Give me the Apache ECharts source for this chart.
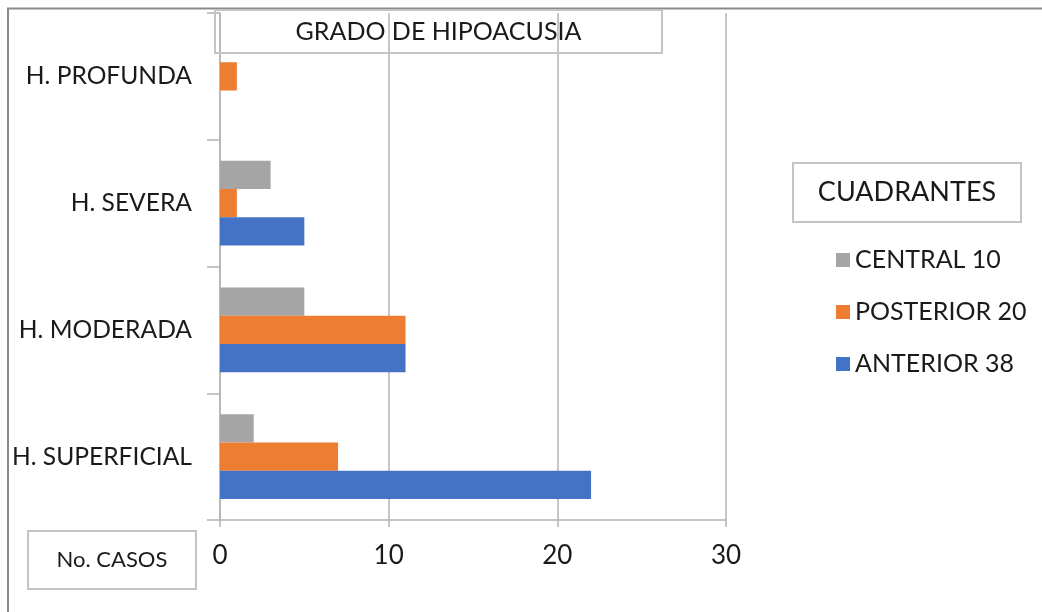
<!DOCTYPE html>
<html>
<head>
<meta charset="utf-8">
<script src="https://cdn.jsdelivr.net/npm/echarts@6/dist/echarts.min.js"></script>
<style>
  html, body { margin: 0; padding: 0; background: #fff; }
  #chart { width: 1042px; height: 612px; }
</style>
</head>
<body>
<div id="chart"></div>
<script>
// Grados de hipoacusia, de abajo hacia arriba
const categories = ['H. SUPERFICIAL', 'H. MODERADA', 'H. SEVERA', 'H. PROFUNDA'];
// Casos por cuadrante
const anterior = [22, 11, 5, 0];
const posterior = [7, 11, 1, 1];
const central = [2, 5, 3, 0];
const xTicks = [0, 10, 20, 30];

const sum = a => a.reduce((s, v) => s + v, 0);
const nameAnterior = 'ANTERIOR ' + sum(anterior);
const namePosterior = 'POSTERIOR ' + sum(posterior);
const nameCentral = 'CENTRAL ' + sum(central);

const FONT = 'Lato, "Open Sans", sans-serif';
const TEXT = '#1a1a1a';
const GRID = '#b3b3b3';
const BOX = '#c4c4c4';

const chart = echarts.init(document.getElementById('chart'), null, { renderer: 'canvas' });

function boxedText(x, y, w, h, text, size) {
  return {
    type: 'group',
    children: [
      { type: 'rect', shape: { x: x, y: y, width: w, height: h },
        style: { fill: 'none', stroke: BOX, lineWidth: 2 }, z: 10 },
      { type: 'text', x: x + w / 2, y: y + h / 2,
        style: { text: text, fill: TEXT, font: size + 'px ' + FONT,
                 textAlign: 'center', textVerticalAlign: 'middle' }, z: 11 }
    ]
  };
}

// Horizontal bars: the first series is drawn at the top of each band
const barCommon = { type: 'bar', barGap: '0%', barCategoryGap: '33%' };

chart.setOption({
  animation: false,
  backgroundColor: '#fff',
  textStyle: { fontFamily: FONT },
  grid: { left: 220, right: 316, top: 13, bottom: 92, containLabel: false },
  xAxis: {
    type: 'value',
    min: xTicks[0], max: xTicks[xTicks.length - 1], interval: xTicks[1] - xTicks[0],
    axisLine: { show: true, lineStyle: { color: GRID, width: 1.5 } },
    axisTick: { show: true, length: 7, lineStyle: { color: GRID, width: 1.5 } },
    splitLine: { show: true, lineStyle: { color: GRID, width: 1.5 } },
    axisLabel: { color: TEXT, fontSize: 26, margin: 23, fontFamily: FONT }
  },
  yAxis: {
    type: 'category',
    data: categories,
    axisLine: { show: true, lineStyle: { color: GRID, width: 1.5 } },
    axisTick: { show: true, length: 13, lineStyle: { color: GRID, width: 1.5 } },
    axisLabel: { color: TEXT, fontSize: 24.6, margin: 28, fontFamily: FONT }
  },
  legend: {
    orient: 'vertical',
    left: 831, top: 240,
    icon: 'rect', itemWidth: 14, itemHeight: 14, itemGap: 22, itemTextGap: 9,
    textStyle: { color: TEXT, fontSize: 25, lineHeight: 30, fontFamily: FONT },
    data: [nameCentral, namePosterior, nameAnterior]
  },
  series: [
    Object.assign({ name: nameCentral, data: central, itemStyle: { color: '#A5A5A5' } }, barCommon),
    Object.assign({ name: namePosterior, data: posterior, itemStyle: { color: '#ED7D31' } }, barCommon),
    Object.assign({ name: nameAnterior, data: anterior, itemStyle: { color: '#4472C4' } }, barCommon)
  ],
  graphic: [
    { type: 'polyline', shape: { points: [[8, 612], [8, 8.5], [1042, 8.5]] },
      style: { stroke: '#8a8a8a', lineWidth: 2, fill: 'none' }, z: 10 },
    boxedText(215, 10, 447, 43, 'GRADO DE HIPOACUSIA', 25),
    boxedText(793, 163, 228, 59, 'CUADRANTES', 27),
    boxedText(28, 531, 168, 58, 'No. CASOS', 22)
  ]
});
</script>
</body>
</html>
